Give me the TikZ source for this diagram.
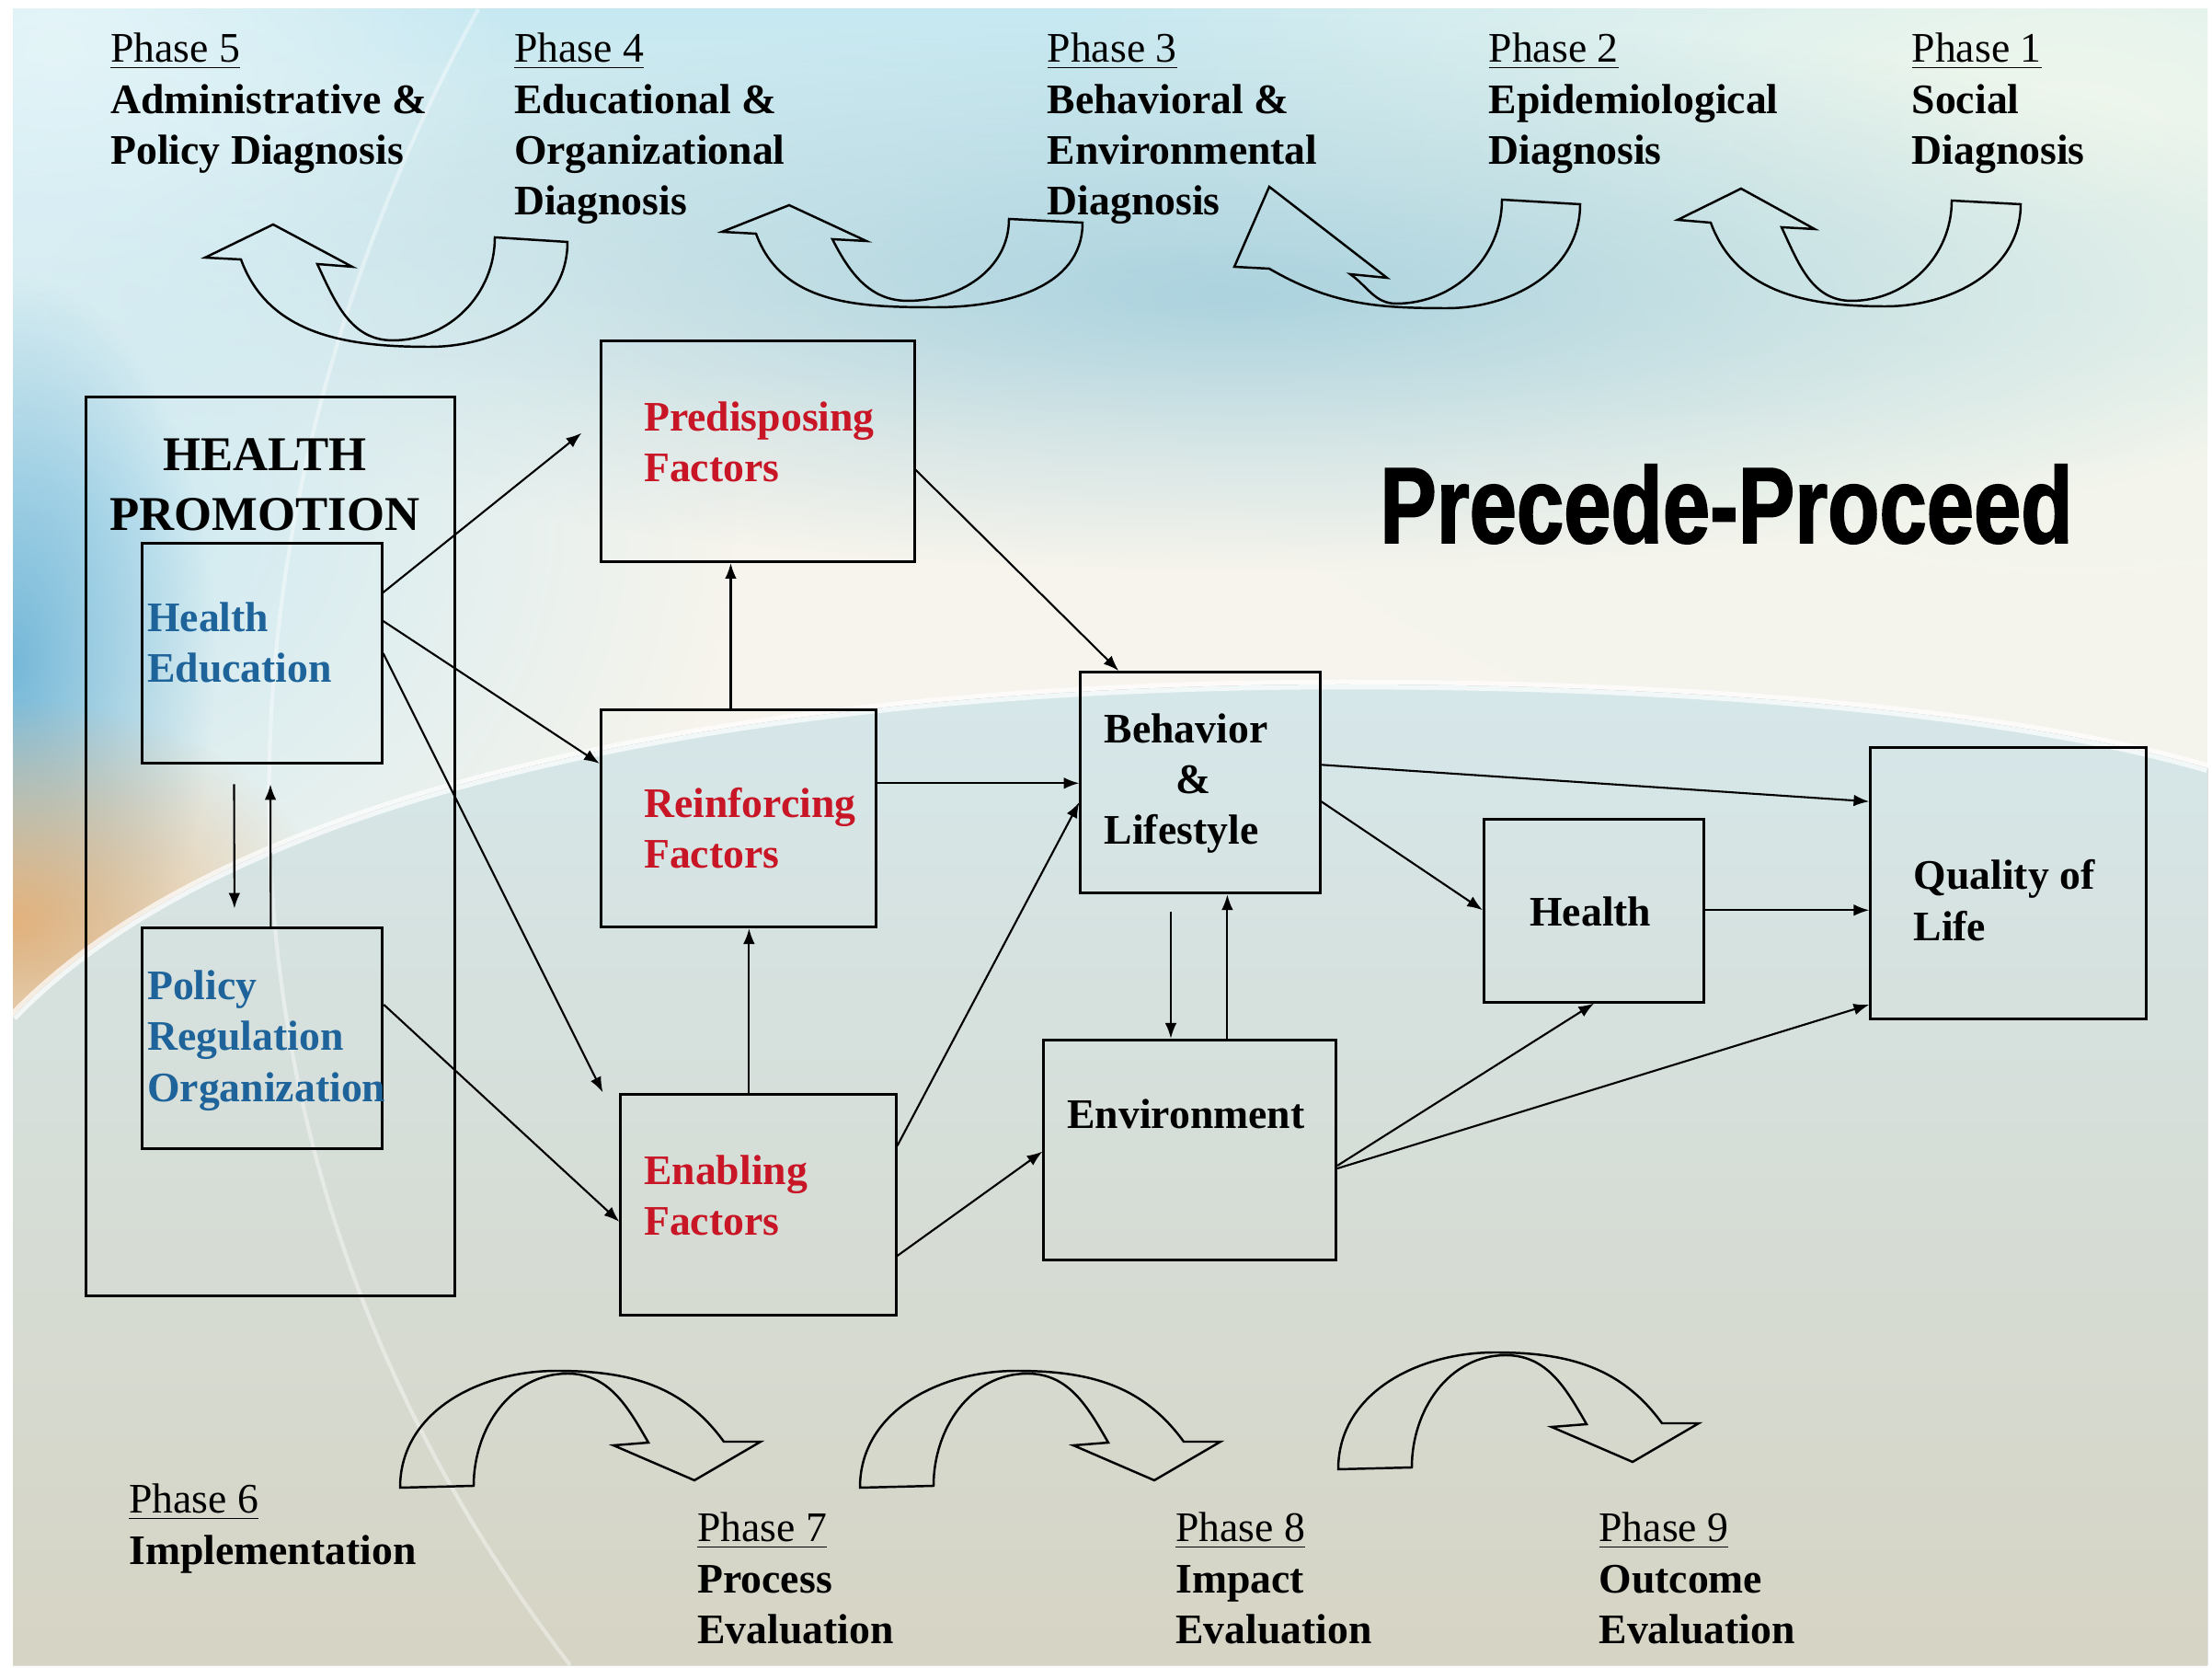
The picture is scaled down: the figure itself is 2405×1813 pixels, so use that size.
\documentclass[tikz,border=0pt]{standalone}
\usepackage{fontspec}
\setmainfont{Liberation Serif}
\newfontfamily\titlefont{Liberation Sans}[FakeStretch=0.785,FakeBold=1.5]
\usetikzlibrary{arrows.meta,fadings,calc}
\definecolor{hblue}{RGB}{30,100,155}
\definecolor{hred}{RGB}{200,22,38}
\definecolor{bgcream}{RGB}{246,244,236}
\definecolor{toptop}{RGB}{198,232,241}
\definecolor{topR}{RGB}{240,247,236}
\definecolor{topcorner}{RGB}{235,248,250}
\definecolor{blobblue}{RGB}{140,195,215}
\definecolor{paleblue}{RGB}{205,234,243}
\definecolor{edgeblue}{RGB}{100,175,212}
\definecolor{edgeorange}{RGB}{232,170,105}
\definecolor{lowtop}{RGB}{214,231,234}
\definecolor{lowbot}{RGB}{214,212,196}
\tikzfading[name=softblob, inner color=transparent!0, outer color=transparent!100]
\begin{document}
\begin{tikzpicture}[x=0.01cm,y=0.01cm,
  bx/.style={draw=black, line width=0.85pt, inner sep=0pt},
  arr/.style={draw=black, line width=0.6pt, -{Latex[length=4.8pt,width=3.6pt]}},
  carrow/.style={draw=black, line width=0.7pt, line join=miter},
  txt/.style={anchor=base west, align=left, inner sep=0pt, font=\bfseries\fontsize{13}{15.7}\selectfont},
  fuzzy/.style={path fading=softblob},
]
\useasboundingbox (0,0) rectangle (2405,-1813);
% ---------- background ----------
\fill[white] (0,0) rectangle (2405,-1813);
\begin{scope}
\clip (14,-10) rectangle (2400,-1810);
\fill[bgcream] (14,-10) rectangle (2400,-1810);
\fill[top color=toptop, bottom color=bgcream] (14,-10) rectangle (2400,-470);
\fill[topR, fuzzy] (2250,-150) ellipse (1100 and 700);
\fill[topcorner, fuzzy] (60,-60) ellipse (500 and 400);
\fill[blobblue, opacity=0.65, fuzzy] (1350,-320) ellipse (1300 and 300);
\fill[paleblue, fuzzy] (100,-560) ellipse (700 and 640);
\fill[edgeblue, opacity=0.85, fuzzy] (14,-720) ellipse (220 and 420);
\fill[edgeorange, opacity=0.85, fuzzy] (14,-1000) ellipse (340 and 240);
\fill[top color=lowtop, bottom color=lowbot]
  (14,-1105) .. controls (250,-860) and (800,-745) .. (1457,-744)
  .. controls (1950,-744) and (2250,-790) .. (2400,-835) -- (2400,-1810) -- (14,-1810) -- cycle;
\draw[white, opacity=0.7, line width=3pt]
  (14,-1105) .. controls (250,-860) and (800,-745) .. (1457,-744)
  .. controls (1950,-744) and (2250,-790) .. (2400,-835);
\draw[white, opacity=0.4, line width=1.2pt] (520,-10) .. controls (250,-500) and (150,-1200) .. (620,-1810);
\end{scope}
% ---------- top curved arrows ----------
\draw[carrow] (538,-258) to[out=-90,in=0] (427,-370) to[out=180,in=-65] (345,-287) -- (383,-290) -- (297,-244) -- (223,-280) -- (262,-282) to[out=-70,in=180] (467,-377) to[out=0,in=-90] (617,-263) -- cycle;
\draw[carrow] (1097,-238) to[out=-90,in=0] (987,-327) to[out=180,in=-63] (905,-260) -- (942,-262) -- (858,-223) -- (785,-252) -- (822,-254) to[out=-70,in=180] (1017,-334) to[out=0,in=-90] (1177,-242) -- cycle;
\draw[carrow] (1633,-217) to[out=-90,in=0] (1518,-330) to[out=180,in=-35] (1468,-298) -- (1508,-302) -- (1380,-203) -- (1342,-290) -- (1380,-292) to[out=-30,in=180] (1573,-335) to[out=0,in=-90] (1718,-222) -- cycle;
\draw[carrow] (2122,-218) to[out=-90,in=0] (2013,-327) to[out=180,in=-65] (1937,-247) -- (1973,-249) -- (1893,-205) -- (1824,-239) -- (1860,-242) to[out=-70,in=180] (2050,-333) to[out=0,in=-90] (2197,-222) -- cycle;
% ---------- bottom curved arrows ----------
\foreach \dx/\dy in {0/0, 500/0, 1020/20}{
\begin{scope}[shift={(\dx,\dy)}]
\draw[carrow] (435,-1617) -- (515,-1615) to[out=90,in=180] (617,-1493) to[out=0,in=120] (705,-1568) -- (667,-1571) -- (755,-1609) -- (827,-1567) -- (787,-1567) to[out=126,in=0] (605,-1490) to[out=180,in=90] (435,-1617) -- cycle;
\end{scope}}
% ---------- phase labels (anchored at last baseline) ----------
\node[txt] (t5) at (119.6,-178.4) {\underline{\textmd{Phase 5}}\\Administrative \&\\Policy Diagnosis};
\node[txt] (t4) at (558.3,-233.6) {\underline{\textmd{Phase 4}}\\Educational \&\\Organizational\\Diagnosis};
\node[txt] (t3) at (1138,-233.6) {\underline{\textmd{Phase 3}}\\Behavioral \&\\Environmental\\Diagnosis};
\node[txt] (t2) at (1618,-178.4) {\underline{\textmd{Phase 2}}\\Epidemiological\\Diagnosis};
\node[txt] (t1) at (2078,-178.4) {\underline{\textmd{Phase 1}}\\Social\\Diagnosis};
\node[txt] (t6) at (139.6,-1700.2) {\underline{\textmd{Phase 6}}\\Implementation};
\node[txt] (t7) at (757.7,-1786.4) {\underline{\textmd{Phase 7}}\\Process\\Evaluation};
\node[txt] (t8) at (1277.7,-1786.4) {\underline{\textmd{Phase 8}}\\Impact\\Evaluation};
\node[txt] (t9) at (1737.8,-1786.4) {\underline{\textmd{Phase 9}}\\Outcome\\Evaluation};
% ---------- title ----------
\node[anchor=base, inner sep=0pt, font=\titlefont\bfseries\fontsize{33.4}{40}\selectfont] (title) at (1877,-590) {Precede-Proceed};
% ---------- boxes ----------
\node[bx, minimum width=4.00cm, minimum height=9.765cm] (hp) at (294,-919.8) {};
\node[bx, minimum width=2.60cm, minimum height=2.39cm] (he) at (285,-710.4) {};
\node[bx, minimum width=2.607cm, minimum height=2.395cm] (pol) at (285.4,-1128.8) {};
\node[bx, minimum width=3.405cm, minimum height=2.395cm] (pre) at (823.7,-490.8) {};
\node[bx, minimum width=2.99cm, minimum height=2.36cm] (rei) at (803,-889.6) {};
\node[bx, minimum width=2.99cm, minimum height=2.395cm] (ena) at (824.5,-1309.8) {};
\node[bx, minimum width=2.60cm, minimum height=2.40cm] (beh) at (1305,-850.7) {};
\node[bx, minimum width=3.175cm, minimum height=2.393cm] (env) at (1293.8,-1250) {};
\node[bx, minimum width=2.392cm, minimum height=1.98cm] (hea) at (1733.2,-990) {};
\node[bx, minimum width=2.99cm, minimum height=2.944cm] (qol) at (2183.4,-960.2) {};
% ---------- box texts ----------
\node[anchor=base, align=center, inner sep=0pt, font=\bfseries\fontsize{15}{18.4}\selectfont] (hpt) at (288,-576.7) {HEALTH\\PROMOTION};
\node[txt, text=hblue] (het) at (159.5,-741.9) {Health\\Education};
\node[txt, text=hblue] (polt) at (159.5,-1197.1) {Policy\\Regulation\\Organization};
\node[txt, text=hred] (pret) at (699.4,-523.8) {Predisposing\\Factors};
\node[txt, text=hred] (reit) at (699.4,-944) {Reinforcing\\Factors};
\node[txt, text=hred] (enat) at (699.4,-1342.8) {Enabling\\Factors};
\node[txt] (beht) at (1200,-917.7) {Behavior\\\hspace*{22pt}\&\\Lifestyle};
\node[txt] (envt) at (1159.6,-1226.3) {Environment};
\node[txt] (heat) at (1662.6,-1006.9) {Health};
\node[txt] (qolt) at (2079.8,-1022.2) {Quality of\\Life};
% ---------- connectors ----------
\draw[arr, shorten >=0.25cm] (he.east |- 0,-644) -- (pre.west |- 0,-455);
\draw[arr] (he.east |- 0,-675) -- (rei.west |- 0,-830);
\draw[arr] (he.east |- 0,-710) -- ($(ena.north west)+(-18,1)$);
\draw[arr] (pol.east |- 0,-1092) -- (ena.west |- 0,-1328);
\draw[arr] ($(he.south)+(-30.5,-21)$) -- ($(pol.north)+(-30.5,20)$);
\draw[arr] ($(pol.north)+(9,0)$) -- ($(he.south)+(9,-21)$);
\draw[arr] (rei.north -| 794.5,0) -- (pre.south -| 794.5,0);
\draw[arr] (ena.north -| 814.4,0) -- (rei.south -| 814.4,0);
\draw[arr] (rei.east |- 0,-851.3) -- (beh.west |- 0,-851.3);
\draw[arr] (pre.east |- 0,-510.8) -- (beh.north -| 1216.3,0);
\draw[arr] (ena.east |- 0,-1245.4) -- (beh.west |- 0,-872);
\draw[arr] (ena.east |- 0,-1365) -- (env.west |- 0,-1251.6);
\draw[arr] ($(beh.south -| 1273,0)+(0,-19)$) -- (env.north -| 1273,0);
\draw[arr] (env.north -| 1334.4,0) -- (beh.south -| 1334.4,0);
\draw[arr] (beh.east |- 0,-831.3) -- (qol.west |- 0,-871.2);
\draw[arr] (beh.east |- 0,-871.2) -- (hea.west |- 0,-989.3);
\draw[arr] (hea.east |- 0,-989.3) -- (qol.west |- 0,-989.3);
\draw[arr] (env.east |- 0,-1266.9) -- (hea.south);
\draw[arr] (env.east |- 0,-1270) -- (qol.west |- 0,-1092);
\end{tikzpicture}
\end{document}
